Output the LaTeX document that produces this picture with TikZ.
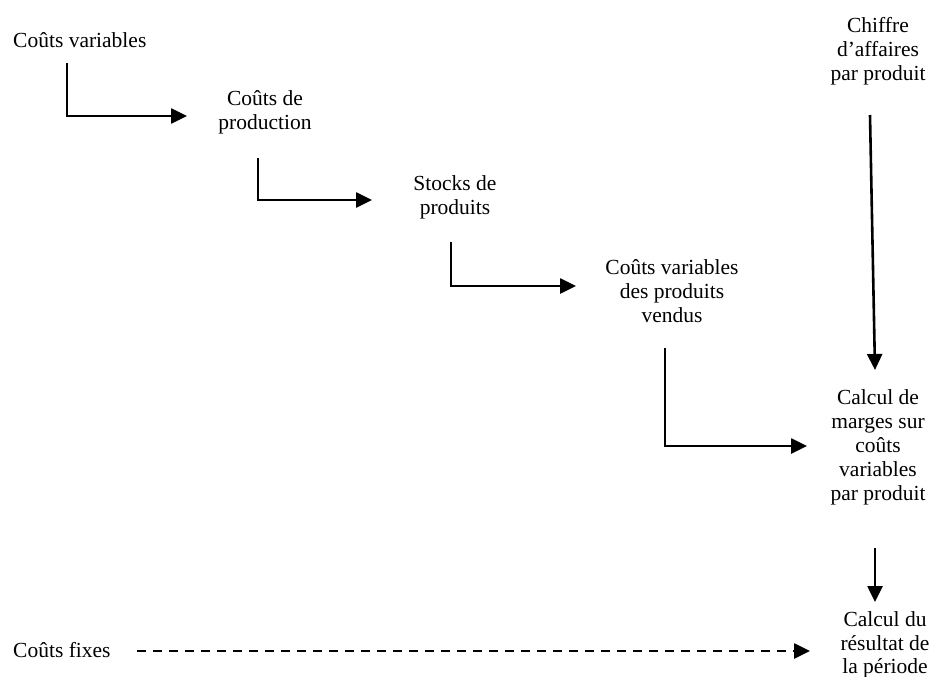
\documentclass[tikz,border=0pt]{standalone}
\usepackage{fontspec}
\setmainfont{Liberation Serif}
\usetikzlibrary{arrows.meta}
\begin{document}
\begin{tikzpicture}[x=1pt,y=-1pt,
  lbl/.style={inner sep=0pt,align=center,font=\fontsize{21.5}{24}\selectfont},
  flow/.style={line width=2.6pt,-{Triangle[length=16pt,width=15pt]}},
  fixflow/.style={flow,dash pattern=on 9pt off 7pt}]
\useasboundingbox (0,0) rectangle (930,677);

% labels of the cost flow
\node[lbl,anchor=west] (cv) at (13,40) {Coûts variables};
\node[lbl] (cp) at (265,112) {Coûts de\\production};
\node[lbl] (sp) at (455,197) {Stocks de\\produits};
\node[lbl] (cvpv) at (672,291) {Coûts variables\\des produits\\vendus};
\node[lbl] (ca) at (878,51) {Chiffre\\d’affaires\\par produit};
\node[lbl] (cm) at (878,447) {Calcul de\\marges sur\\coûts\\variables\\par produit};
\node[lbl,font=\fontsize{21.5}{23.5}\selectfont] (cr) at (885,645) {Calcul du\\résultat de\\la période};
\node[lbl,anchor=west] (cf) at (13,650) {Coûts fixes};

% connector end points
\coordinate (s1) at (67,63);   \coordinate (e1) at (187,116);
\coordinate (s2) at (258,158); \coordinate (e2) at (372,200);
\coordinate (s3) at (451,242); \coordinate (e3) at (576,286);
\coordinate (s4) at (665,348); \coordinate (e4) at (807,446);
\coordinate (s5) at (870,115); \coordinate (e5) at (875,370);
\coordinate (s6) at (875,548); \coordinate (e6) at (875,602);
\coordinate (s7) at (137,651); \coordinate (e7) at (810,651);

% connectors
\draw[flow] (s1) |- (e1);
\draw[flow] (s2) |- (e2);
\draw[flow] (s3) |- (e3);
\draw[flow] (s4) |- (e4);
\draw[flow] (s5) -- (e5);
\draw[flow] (s6) -- (e6);
\draw[fixflow] (s7) -- (e7);
\end{tikzpicture}
\end{document}
